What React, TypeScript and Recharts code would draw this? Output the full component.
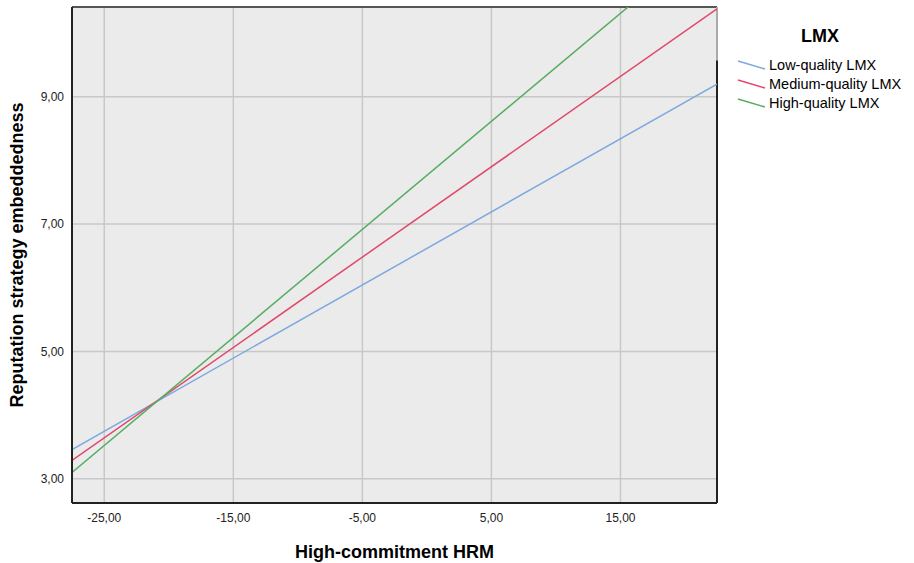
import { LineChart, Line, XAxis, YAxis, CartesianGrid, Legend, ReferenceLine, Label } from "recharts";

// x range of the plot (High-commitment HRM) and fitted line endpoints
const hrm = [-27.5, 22.48];
const lowLmx = [3.46, 9.2];
const mediumLmx = [3.29, 10.38];
const highLmx = [3.1, 11.58];

const xTicks = [-25, -15, -5, 5, 15];
const yTicks = [3, 5, 7, 9];
const xDomain = [-27.5, 22.48];
const yDomain = [2.62, 10.41];

const series = [
  { key: "low", name: "Low-quality LMX", color: "#7AA8DF" },
  { key: "medium", name: "Medium-quality LMX", color: "#E1486A" },
  { key: "high", name: "High-quality LMX", color: "#55AE61" },
];

const data = hrm.map((x, i) => ({ x, low: lowLmx[i], medium: mediumLmx[i], high: highLmx[i] }));

const fmt = (v: number) => v.toFixed(2).replace(".", ",");
const font = "Liberation Sans, Arial, sans-serif";

const LegendBox = () => (
  <div style={{ fontFamily: font, color: "#000", width: 170 }}>
    <div style={{ fontWeight: "bold", fontSize: 18, width: 166, textAlign: "center", height: 20, marginBottom: 9 }}>LMX</div>
    {series.map((s) => (
      <div key={s.key} style={{ display: "flex", alignItems: "center", height: 19 }}>
        <svg width={32} height={12}>
          <line x1={1} y1={2} x2={28} y2={10} stroke={s.color} strokeWidth={1.5} />
        </svg>
        <span style={{ fontSize: 14.5, marginLeft: 0, whiteSpace: "nowrap" }}>{s.name}</span>
      </div>
    ))}
  </div>
);

export default function App() {
  return (
    <div style={{ position: "absolute", left: 0, top: 0 }}>
      <LineChart width={914} height={563} data={data} margin={{ top: 7, right: 27, bottom: 0, left: 0 }}>
        <CartesianGrid fill="#EBEBEB" stroke="#C8C8C8" strokeWidth={1.5} />
        <XAxis
          dataKey="x"
          type="number"
          domain={xDomain}
          ticks={xTicks}
          allowDataOverflow
          tickFormatter={fmt}
          tickLine={false}
          axisLine={{ stroke: "#222", strokeWidth: 2 }}
          tick={{ fontSize: 12, fill: "#222", fontFamily: font }}
          tickMargin={4}
          height={60}
        >
          <Label value="High-commitment HRM" position="insideBottom" offset={5} style={{ fontSize: 18, fontWeight: "bold", fill: "#000", fontFamily: font }} />
        </XAxis>
        <YAxis
          type="number"
          domain={yDomain}
          ticks={yTicks}
          allowDataOverflow
          tickFormatter={fmt}
          tickLine={false}
          axisLine={{ stroke: "#222", strokeWidth: 2 }}
          tick={{ fontSize: 12, fill: "#222", fontFamily: font }}
          width={72}
          label={{
            content: (props: any) => {
              const vb = props.viewBox;
              const cx = 17;
              const cy = vb.y + vb.height / 2;
              return (
                <text x={cx} y={cy} transform={`rotate(-90, ${cx}, ${cy})`} textAnchor="middle" dominantBaseline="central" style={{ fontSize: 18, fontWeight: "bold", fill: "#000", fontFamily: font }}>
                  Reputation strategy embeddedness
                </text>
              );
            },
          }}
        />
        <ReferenceLine y={yDomain[1]} stroke="#555" strokeWidth={2} />
        <ReferenceLine segment={[{ x: xDomain[1], y: 9.57 }, { x: xDomain[1], y: yDomain[1] }]} stroke="#AAAAAA" strokeWidth={2} />
        <ReferenceLine segment={[{ x: xDomain[1], y: yDomain[0] }, { x: xDomain[1], y: 9.57 }]} stroke="#222" strokeWidth={2} />
        {series.map((s) => (
          <Line key={s.key} dataKey={s.key} name={s.name} stroke={s.color} strokeWidth={1.5} dot={false} isAnimationActive={false} />
        ))}
        <Legend content={<LegendBox />} layout="vertical" verticalAlign="top" align="right" wrapperStyle={{ left: 737, top: 26, width: 170 }} />
      </LineChart>
    </div>
  );
}
